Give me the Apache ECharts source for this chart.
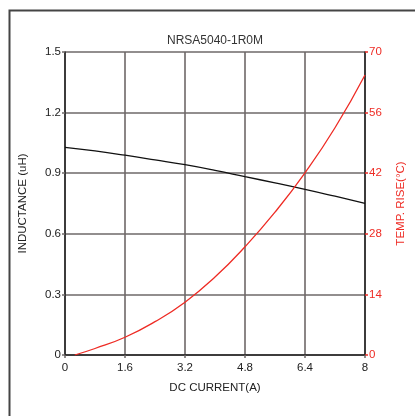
<!DOCTYPE html>
<html>
<head>
<meta charset="utf-8">
<script src="https://cdn.jsdelivr.net/npm/echarts@6/dist/echarts.min.js"></script>
<style>
  html, body { margin: 0; padding: 0; background: #fff; }
  #chart { width: 415px; height: 416px; }
</style>
</head>
<body>
<div id="chart"></div>
<script>
// DC current sample points (A)
const currentA = [0, 0.8, 1.6, 2.4, 3.2, 4.0, 4.8, 5.6, 6.4, 7.2, 8.0];
// Inductance vs current (uH)
const inductance = [1.028, 1.010, 0.989, 0.966, 0.942, 0.914, 0.883, 0.852, 0.820, 0.786, 0.751];
// Temperature rise vs current (°C)
const tempCurrent = [0.26, 0.8, 1.6, 2.4, 3.2, 4.0, 4.8, 5.6, 6.4, 7.2, 8.0];
const tempRise = [0, 1.5, 4.1, 7.7, 12.2, 18.0, 25.0, 33.0, 42.1, 52.5, 64.7];

const FONT = 'Liberation Sans, Arial, sans-serif';
const RED = '#ee2b24';
const GRID = '#6e6868';
const FS = 11.5;

const chart = echarts.init(document.getElementById('chart'), null, { renderer: 'canvas' });

chart.setOption({
  animation: false,
  backgroundColor: '#fff',
  textStyle: { fontFamily: FONT },
  graphic: [{
    type: 'rect',
    left: 7, top: 8,
    shape: { width: 430, height: 430 },
    style: { fill: 'none', stroke: '#444', lineWidth: 2 },
    z: 100
  }, {
    type: 'text',
    x: 215, y: 41,
    style: {
      text: 'NRSA5040-1R0M',
      fontSize: 12, fontFamily: FONT, fill: '#333',
      textAlign: 'center', textVerticalAlign: 'middle'
    },
    z: 100
  }],
  grid: { left: 65, right: 48, top: 52, bottom: 61, containLabel: false },
  xAxis: {
    type: 'value',
    min: 0, max: 8, interval: 1.6,
    name: 'DC CURRENT(A)',
    nameLocation: 'middle',
    nameGap: 27,
    nameTextStyle: { fontSize: FS, color: '#222', fontFamily: FONT },
    axisLine: { show: true, lineStyle: { color: '#222', width: 1.5 } },
    axisTick: { show: true, length: 3, lineStyle: { color: GRID, width: 1.5 } },
    axisLabel: { fontSize: FS, color: '#222', margin: 7, fontFamily: FONT,
      formatter: v => String(Math.round(v * 10) / 10) },
    splitLine: { show: true, lineStyle: { color: GRID, width: 1.6 } }
  },
  yAxis: [{
    type: 'value',
    position: 'left',
    min: 0, max: 1.5, interval: 0.3,
    name: 'INDUCTANCE (uH)',
    nameLocation: 'middle',
    nameGap: 36,
    nameTextStyle: { fontSize: FS, color: '#222', fontFamily: FONT },
    axisLine: { show: true, lineStyle: { color: '#222', width: 1.5 } },
    axisTick: { show: true, length: 3, lineStyle: { color: GRID, width: 1.5 } },
    axisLabel: { fontSize: FS, color: '#222', margin: 4, fontFamily: FONT,
      formatter: v => String(Math.round(v * 10) / 10) },
    splitLine: { show: true, lineStyle: { color: GRID, width: 1.6 } }
  }, {
    type: 'value',
    position: 'right',
    min: 0, max: 70, interval: 14,
    name: 'TEMP. RISE(°C)',
    nameLocation: 'middle',
    nameGap: 30,
    nameTextStyle: { fontSize: FS, color: RED, fontFamily: FONT },
    axisLine: { show: true, lineStyle: { color: '#222', width: 1.5 } },
    axisTick: { show: true, length: 3, lineStyle: { color: RED, width: 1.5 } },
    axisLabel: { fontSize: FS, color: RED, margin: 4, fontFamily: FONT },
    splitLine: { show: false }
  }],
  series: [{
    name: 'Inductance',
    type: 'line',
    yAxisIndex: 0,
    smooth: true,
    showSymbol: false,
    lineStyle: { color: '#111', width: 1.3 },
    data: currentA.map((x, i) => [x, inductance[i]]),
    z: 5
  }, {
    name: 'Temp rise',
    type: 'line',
    yAxisIndex: 1,
    smooth: true,
    showSymbol: false,
    lineStyle: { color: RED, width: 1.3 },
    data: tempCurrent.map((x, i) => [x, tempRise[i]]),
    z: 6
  }]
});
</script>
</body>
</html>
